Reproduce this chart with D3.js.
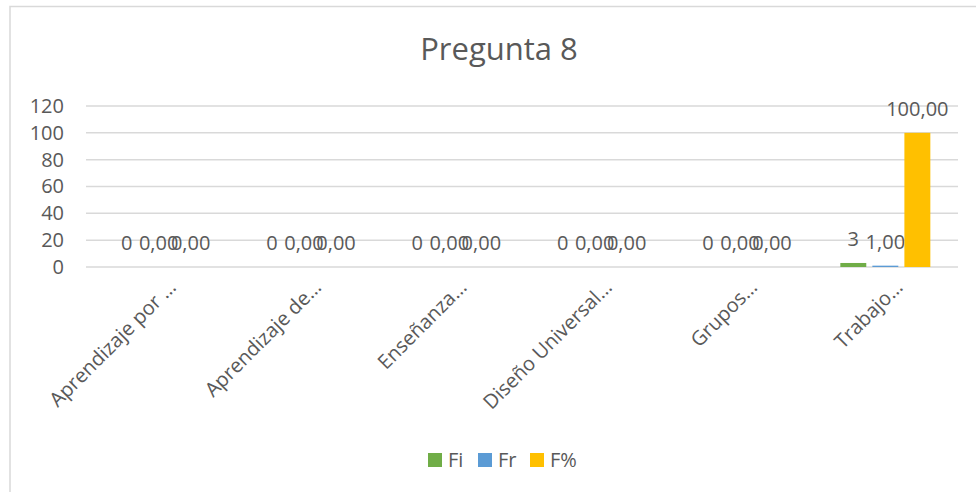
<!DOCTYPE html>
<html>
<head>
<meta charset="utf-8">
<script src="https://cdn.jsdelivr.net/npm/d3@7"></script>
<style>
  body { margin: 0; background: #fff; }
  text { font-family: "Open Sans", sans-serif; fill: #595959; }
</style>
</head>
<body>
<svg id="chart" width="976" height="492"></svg>
<script>
var categories = ['Aprendizaje por …', 'Aprendizaje de…', 'Enseñanza…', 'Diseño Universal…', 'Grupos…', 'Trabajo…']
var fi = [0, 0, 0, 0, 0, 3]
var fr = [0, 0, 0, 0, 0, 1]
var fp = [0, 0, 0, 0, 0, 100]
var yTicks = [0, 20, 40, 60, 80, 100, 120]

var series = [
  {name: 'Fi', values: fi, color: '#70ad47', fmt: d => String(d)},
  {name: 'Fr', values: fr, color: '#5b9bd5', fmt: d => d.toFixed(2).replace('.', ',')},
  {name: 'F%', values: fp, color: '#ffc000', fmt: d => d.toFixed(2).replace('.', ',')}
]

var svg = d3.select('#chart')
var plotLeft = 86, plotRight = 958, plotTop = 106, plotBottom = 267

// chart frame
svg.append('rect')
  .attr('x', 10).attr('y', 6.5).attr('width', 975).attr('height', 495)
  .attr('fill', 'none').attr('stroke', '#d9d9d9').attr('stroke-width', 1.5)

svg.append('text')
  .attr('x', 499).attr('y', 60)
  .attr('text-anchor', 'middle')
  .style('font-size', '31px')
  .text('Pregunta 8')

var x = d3.scaleBand().domain(categories).range([plotLeft, plotRight])
var xs = d3.scaleBand().domain(series.map(s => s.name)).range([-45, 45]).paddingInner(0.19)
var y = d3.scaleLinear().domain([0, 120]).range([plotBottom, plotTop])

// gridlines
svg.append('g').selectAll('line').data(yTicks).join('line')
  .attr('x1', plotLeft).attr('x2', plotRight)
  .attr('y1', d => y(d)).attr('y2', d => y(d))
  .attr('stroke', '#d9d9d9').attr('stroke-width', 1.5)

var yAxis = svg.append('g')
  .attr('transform', 'translate(' + (plotLeft - 22) + ',0)')
  .call(d3.axisLeft(y).tickValues(yTicks).tickSize(0).tickPadding(0))
yAxis.select('.domain').remove()
yAxis.selectAll('text').style('font-size', '20px').attr('fill', '#595959').attr('font-family', '"Open Sans", sans-serif')

// bars
var groups = svg.append('g').selectAll('g').data(series).join('g')
groups.selectAll('rect').data(s => s.values.map((v, i) => ({s: s, v: v, c: categories[i]})))
  .join('rect')
  .attr('x', d => x(d.c) + x.bandwidth() / 2 + xs(d.s.name))
  .attr('width', xs.bandwidth())
  .attr('y', d => y(d.v))
  .attr('height', d => plotBottom - y(d.v))
  .attr('fill', d => d.s.color)

// data labels
groups.selectAll('text').data(s => s.values.map((v, i) => ({s: s, v: v, c: categories[i]})))
  .join('text')
  .attr('x', d => x(d.c) + x.bandwidth() / 2 + xs(d.s.name) + xs.bandwidth() / 2)
  .attr('y', d => y(d.v) - 17)
  .attr('text-anchor', 'middle')
  .style('font-size', '20px')
  .text(d => d.s.fmt(d.v))

// category labels
svg.append('g').selectAll('text').data(categories).join('text')
  .attr('transform', d => 'translate(' + (x(d) + x.bandwidth() / 2 + 8) + ',278) rotate(-45)')
  .attr('text-anchor', 'end')
  .attr('dy', '0.75em')
  .style('font-size', '20px')
  .text(d => d)

// legend
var legend = svg.append('g').selectAll('g').data(series).join('g')
  .attr('transform', (d, i) => 'translate(' + [428, 478, 530][i] + ',453)')
legend.append('rect').attr('width', 14).attr('height', 14).attr('fill', d => d.color)
legend.append('text').attr('x', 20).attr('y', 14).style('font-size', '20px').text(d => d.name)
</script>
</body>
</html>
